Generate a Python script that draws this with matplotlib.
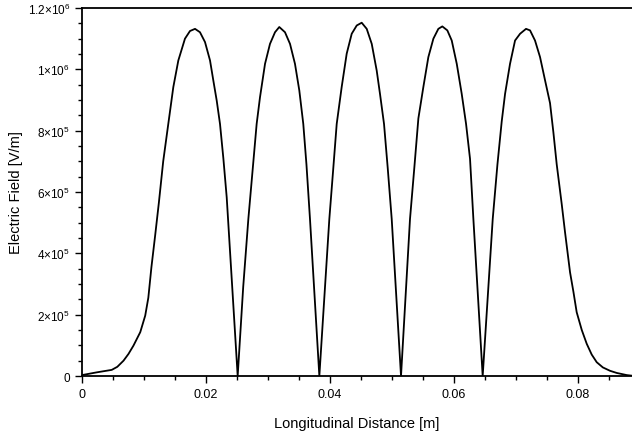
import matplotlib
matplotlib.use("Agg")
import matplotlib.pyplot as plt
from matplotlib.ticker import MultipleLocator, FixedLocator, FixedFormatter

plt.rcParams['font.family'] = ['Liberation Sans', 'DejaVu Sans']
plt.rcParams['mathtext.default'] = 'regular'

# longitudinal position [m] and field magnitude [V/m]
distance = [
    # entrance tail + cell 1
    0.0, 0.0024, 0.0048, 0.0057, 0.0067, 0.0075, 0.0083, 0.0094, 0.0102,
    0.0107, 0.0112, 0.0118, 0.0124, 0.0131, 0.01392, 0.01473, 0.01554,
    0.01661, 0.01742, 0.01823, 0.01903, 0.01984, 0.02065, 0.02118, 0.02173,
    0.02226, 0.0228, 0.02334, 0.0242, 0.02511,
    # cell 2
    0.0260, 0.02683, 0.02817, 0.02871, 0.02952, 0.03032, 0.03113, 0.03182,
    0.03274, 0.03355, 0.03435, 0.03505, 0.03569, 0.0362, 0.03677, 0.03828,
    # cell 3
    0.03989, 0.0405, 0.04108, 0.04188, 0.04269, 0.0435, 0.04431, 0.04511,
    0.04592, 0.04673, 0.04753, 0.04806, 0.04871, 0.0493, 0.04995, 0.05145,
    # cell 4
    0.0529, 0.0536, 0.05425, 0.05505, 0.05586, 0.05667, 0.05747, 0.05811,
    0.05892, 0.05963, 0.06044, 0.06124, 0.06194, 0.06258, 0.06312, 0.06462,
    # cell 5 + exit tail
    0.06624, 0.0670, 0.06769, 0.06823, 0.06903, 0.06984, 0.07065, 0.07161,
    0.07226, 0.07306, 0.07387, 0.07468, 0.07548, 0.07602, 0.07656, 0.07737,
    0.0779, 0.07871, 0.07925, 0.07978, 0.0806, 0.0814, 0.0822, 0.08301,
    0.0840, 0.08516, 0.08624, 0.08785, 0.0887,
]
field = [
    3e3, 1.2e4, 2.0e4, 3.0e4, 5.0e4, 7.2e4, 9.9e4, 1.43e5, 1.97e5,
    2.55e5, 3.55e5, 4.58e5, 5.65e5, 7.0e5, 8.22e5, 9.42e5, 1.029e6,
    1.1e6, 1.125e6, 1.132e6, 1.121e6, 1.089e6, 1.029e6, 9.64e5, 8.98e5,
    8.22e5, 7.1e5, 5.83e5, 3.0e5, 0.0,
    2.9e5, 5.12e5, 8.22e5, 9.09e5, 1.018e6, 1.083e6, 1.121e6, 1.138e6,
    1.121e6, 1.083e6, 1.018e6, 9.31e5, 8.22e5, 6.9e5, 5.12e5, 0.0,
    5.12e5, 6.7e5, 8.22e5, 9.42e5, 1.051e6, 1.116e6, 1.143e6, 1.152e6,
    1.132e6, 1.083e6, 9.96e5, 9.2e5, 8.22e5, 6.8e5, 5.12e5, 0.0,
    5.12e5, 6.8e5, 8.4e5, 9.42e5, 1.04e6, 1.1e6, 1.132e6, 1.14e6,
    1.127e6, 1.094e6, 1.018e6, 9.2e5, 8.22e5, 7.08e5, 5.12e5, 0.0,
    5.12e5, 6.9e5, 8.3e5, 9.2e5, 1.018e6, 1.094e6, 1.116e6, 1.132e6,
    1.127e6, 1.094e6, 1.04e6, 9.64e5, 8.9e5, 7.95e5, 6.9e5, 5.6e5,
    4.69e5, 3.38e5, 2.75e5, 2.08e5, 1.5e5, 1.05e5, 7.0e4, 4.5e4,
    2.8e4, 1.7e4, 1.0e4, 3e3, 1e3,
]

y_ticks = [0, 2e5, 4e5, 6e5, 8e5, 1e6, 1.2e6]
y_tick_labels = ['0', '2×10$^5$', '4×10$^5$', '6×10$^5$', '8×10$^5$',
                 '1×10$^6$', '1.2×10$^6$']
x_ticks = [0, 0.02, 0.04, 0.06, 0.08]
x_tick_labels = ['0', '0.02', '0.04', '0.06', '0.08']

fig = plt.figure(figsize=(6.32, 4.39), dpi=100)
ax = fig.add_axes([0.1297, 0.1412, 0.8703, 0.8383])
ax.plot(distance, field, color='black', lw=1.3)

ax.set_xlim(0, 0.0887)
ax.set_ylim(0, 1.2e6)
ax.xaxis.set_major_locator(FixedLocator(x_ticks))
ax.xaxis.set_major_formatter(FixedFormatter(x_tick_labels))
ax.xaxis.set_minor_locator(MultipleLocator(0.005))
ax.yaxis.set_major_locator(FixedLocator(y_ticks))
ax.yaxis.set_major_formatter(FixedFormatter(y_tick_labels))
ax.yaxis.set_minor_locator(MultipleLocator(5e4))

ax.spines['right'].set_visible(False)
for s in ['left', 'bottom', 'top']:
    ax.spines[s].set_linewidth(1.3)
ax.tick_params(which='major', direction='out', length=5, width=1, labelsize=9)
ax.tick_params(which='minor', direction='out', length=3, width=1)
ax.tick_params(axis='y', labelsize=8.5)

ax.set_xlabel('Longitudinal Distance [m]', fontsize=10.5, labelpad=12)
ax.set_ylabel('Electric Field [V/m]', fontsize=10.5, labelpad=3)

fig.savefig('out.png', dpi=100)
